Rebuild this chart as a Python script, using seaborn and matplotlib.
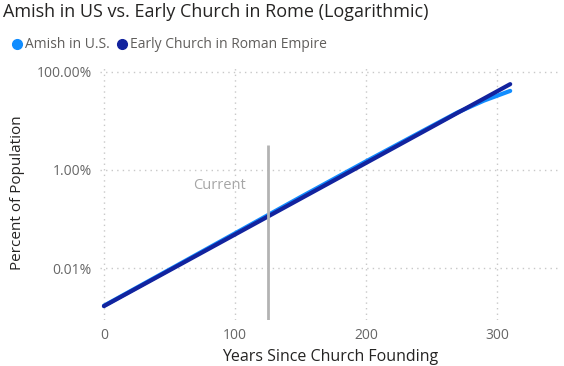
import matplotlib
matplotlib.use("Agg")
import matplotlib.pyplot as plt
from matplotlib.ticker import FixedLocator, FuncFormatter, NullLocator
from matplotlib.lines import Line2D
import seaborn as sns
import pandas as pd

# ---- data ----
series_names = ["Amish in U.S.", "Early Church in Roman Empire"]
amish_years = [0, 50, 100, 150, 200, 250, 270, 290, 310]
amish_share = [1.70e-5, 9.3e-5, 5.1e-4, 2.8e-3, 1.5e-2, 7.8e-2, 0.15, 0.26, 0.41]
church_years = [0, 50, 100, 150, 200, 250, 270, 290, 310]
church_share = [1.67e-5, 8.97e-5, 4.82e-4, 2.59e-3, 1.39e-2, 7.48e-2, 0.147, 0.287, 0.563]
current_year = 125
current_label = "Current"
y_ticks = [1e-4, 1e-2, 1.0]
x_ticks = [0, 100, 200, 300]
colors = ["#118DFF", "#12239E"]

df = pd.concat([
    pd.DataFrame({"year": amish_years, "share": amish_share, "series": series_names[0]}),
    pd.DataFrame({"year": church_years, "share": church_share, "series": series_names[1]}),
])

sns.set_style("white")
plt.rcParams["font.family"] = ["Open Sans", "DejaVu Sans"]

fig = plt.figure(figsize=(5.64, 3.66), dpi=100)
ax = fig.add_axes([100 / 564, 46 / 366, 460 / 564, 254 / 366])

sns.lineplot(data=df, x="year", y="share", hue="series", palette=colors,
             hue_order=series_names, linewidth=3.0, ax=ax, legend=False,
             solid_capstyle="round")

ax.set_yscale("log")
ax.set_ylim(8.7e-6, 1.32)
ax.set_xlim(-3, 348)
ax.yaxis.set_major_locator(FixedLocator(y_ticks))
ax.yaxis.set_minor_locator(NullLocator())
ax.yaxis.set_major_formatter(FuncFormatter(lambda v, p: f"{v * 100:.2f}%"))
ax.xaxis.set_major_locator(FixedLocator(x_ticks))

ax.grid(True, which="major", color="#C8C8C8", linestyle=(0, (1, 3)), linewidth=1.0)
for s in ax.spines.values():
    s.set_visible(False)
ax.tick_params(axis="both", length=0, labelsize=10, labelcolor="#666666", pad=6)

ax.vlines(current_year, 8.7e-6, 0.032, color="#B3B3B3", linewidth=2)
ax.text(88, 4.9e-3, current_label, ha="center", va="center", color="#A6A6A6", fontsize=10.5)

ax.set_xlabel("Years Since Church Founding", fontsize=11.5, color="#252423", labelpad=4)
ax.set_ylabel("Percent of Population", fontsize=11, color="#252423", labelpad=8)

fig.text(3 / 564, 1 - 12 / 366, "Amish in US vs. Early Church in Rome (Logarithmic)",
         ha="left", va="center", fontsize=13, color="#252423")

handles = [Line2D([0], [0], marker="o", linestyle="", markersize=7,
                  markerfacecolor=c, markeredgecolor=c) for c in colors]
fig.legend(handles, series_names, loc="center left", bbox_to_anchor=(6 / 564, 1 - 45 / 366),
           ncol=2, frameon=False, handletextpad=0.15, columnspacing=0.5,
           fontsize=10, labelcolor="#605E5C", borderaxespad=0, handlelength=0.8)

fig.savefig("out.png", dpi=100)
